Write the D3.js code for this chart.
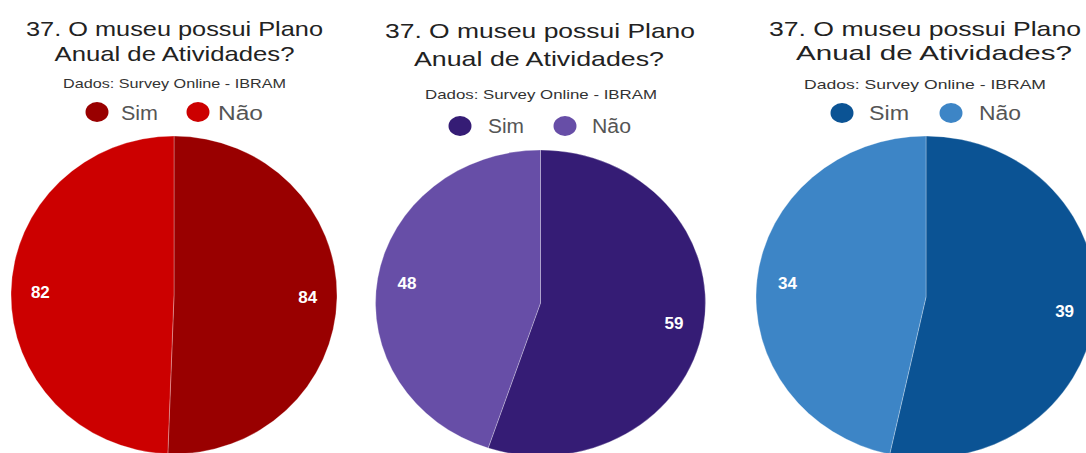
<!DOCTYPE html>
<html>
<head>
<meta charset="utf-8">
<script src="https://cdn.jsdelivr.net/npm/d3@7"></script>
<style>
  html, body { margin: 0; padding: 0; background: #fff; }
  svg { display: block; font-family: "Liberation Sans", Arial, sans-serif; }
</style>
</head>
<body>
<svg id="chart" width="1086" height="453"></svg>
<script>
// Answers to question 37, three survey groups
const categories = ["Sim", "Não"];
const valuesRed = [84, 82];
const valuesPurple = [59, 48];
const valuesBlue = [39, 34];

const titleLines = ["37. O museu possui Plano", "Anual de Atividades?"];
const subtitleText = "Dados: Survey Online - IBRAM";

const coloursRed = ["#990000", "#cc0000"];
const coloursPurple = ["#351c75", "#674ea7"];
const coloursBlue = ["#0b5394", "#3d85c6"];

// Layout of each panel (pie ellipse, title lines, subtitle, legend)
const panels = [
  {
    values: valuesRed, colours: coloursRed,
    cx: 174, cy: 295, rx: 163, ry: 159,
    title: [{ x: 174.5, y: 36, w: 297 }, { x: 174.5, y: 60.5, w: 240 }],
    sub: { x: 174.5, y: 88, w: 223 },
    legend: { y: 112, base: 119.5, dots: [97, 198], texts: [[121, 37], [218, 45]] }
  },
  {
    values: valuesPurple, colours: coloursPurple,
    cx: 540.5, cy: 303, rx: 165, ry: 153,
    title: [{ x: 540, y: 38, w: 310 }, { x: 539, y: 66, w: 250 }],
    sub: { x: 541, y: 99, w: 232 },
    legend: { y: 126, base: 133, dots: [460, 565], texts: [[488, 36], [592, 39]] }
  },
  {
    values: valuesBlue, colours: coloursBlue,
    cx: 926, cy: 297, rx: 170, ry: 161,
    title: [{ x: 925, y: 36, w: 312 }, { x: 934, y: 60, w: 276 }],
    sub: { x: 925, y: 89, w: 242 },
    legend: { y: 113, base: 120, dots: [842, 951], texts: [[869, 40], [979, 42]] }
  }
];

const svg = d3.select("#chart");
const pie = d3.pie().sort(null).value(d => d);

panels.forEach(p => {
  const g = svg.append("g");

  // Title (two lines), centred over the pie
  p.title.forEach((t, i) => {
    g.append("text")
      .attr("x", t.x).attr("y", t.y)
      .attr("text-anchor", "middle")
      .attr("font-size", 21)
      .attr("fill", "#222")
      .attr("textLength", t.w)
      .attr("lengthAdjust", "spacingAndGlyphs")
      .text(titleLines[i]);
  });

  // Subtitle
  g.append("text")
    .attr("x", p.sub.x).attr("y", p.sub.y)
    .attr("text-anchor", "middle")
    .attr("font-size", 13)
    .attr("fill", "#333")
    .attr("textLength", p.sub.w)
    .attr("lengthAdjust", "spacingAndGlyphs")
    .text(subtitleText);

  // Legend
  categories.forEach((c, i) => {
    g.append("ellipse")
      .attr("cx", p.legend.dots[i]).attr("cy", p.legend.y)
      .attr("rx", 11.5).attr("ry", 10)
      .attr("fill", p.colours[i]);
    g.append("text")
      .attr("x", p.legend.texts[i][0]).attr("y", p.legend.base)
      .attr("font-size", 20)
      .attr("fill", "#555")
      .attr("textLength", p.legend.texts[i][1])
      .attr("lengthAdjust", "spacingAndGlyphs")
      .text(c);
  });

  // Pie: drawn on a circle of radius ry, stretched horizontally to rx
  const arcs = pie(p.values);
  const arc = d3.arc().innerRadius(0).outerRadius(p.ry);
  const labelArc = d3.arc().innerRadius(p.ry * 0.82).outerRadius(p.ry * 0.82);
  const sx = p.rx / p.ry;

  const pieG = g.append("g")
    .attr("transform", `translate(${p.cx},${p.cy}) scale(${sx},1)`);

  pieG.selectAll("path")
    .data(arcs)
    .join("path")
    .attr("d", arc)
    .attr("fill", (d, i) => p.colours[i])
    .attr("stroke", "#ffffff")
    .attr("stroke-opacity", 0.35)
    .attr("stroke-width", 0.8);

  // Value labels
  g.selectAll("text.val")
    .data(arcs)
    .join("text")
    .attr("class", "val")
    .attr("x", d => p.cx + labelArc.centroid(d)[0] * sx)
    .attr("y", d => p.cy + labelArc.centroid(d)[1])
    .attr("dy", "0.35em")
    .attr("text-anchor", "middle")
    .attr("font-size", 17)
    .attr("font-weight", "bold")
    .attr("fill", "#ffffff")
    .text(d => d.data);
});
</script>
</body>
</html>
